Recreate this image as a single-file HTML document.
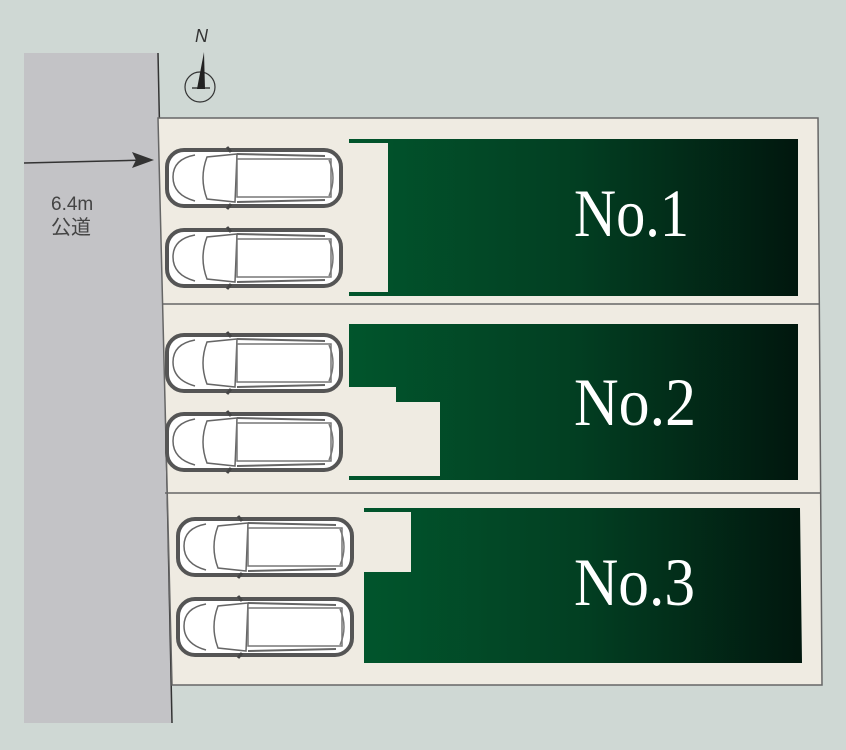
<!DOCTYPE html>
<html><head><meta charset="utf-8"><style>
html,body{margin:0;padding:0;background:#cfd8d4;}
svg{display:block}
</style></head><body>
<svg width="846" height="750" viewBox="0 0 846 750" xmlns="http://www.w3.org/2000/svg">
<defs>
<linearGradient id="g" x1="0" x2="1" y1="0" y2="0">
<stop offset="0" stop-color="#01552c"/><stop offset="0.5" stop-color="#023f22"/><stop offset="1" stop-color="#01170e"/>
</linearGradient>
<g id="car">
<rect x="2" y="3" width="174" height="56" rx="17" fill="#fff" stroke="#555" stroke-width="4"/>
<path d="M8 30 Q8 12 30 8 M8 30 Q8 48 30 54" fill="none" stroke="#666" stroke-width="1.5"/>
<path d="M42 10 Q34 31 42 52 L70 55 L72 7 Z" fill="#fff" stroke="#666" stroke-width="1.5"/>
<rect x="72" y="12" width="94" height="38" fill="#fff" stroke="#777" stroke-width="1.5"/>
<path d="M72 7 L160 9 M72 55 L160 53" stroke="#666" stroke-width="2"/>
<path d="M164 13 Q172 31 164 49" fill="none" stroke="#777" stroke-width="1.5"/>
<path d="M62 0 L66 5 M62 62 L66 57" stroke="#444" stroke-width="3"/>
</g>
</defs>
<rect width="846" height="750" fill="#cfd8d4"/>
<polygon points="24,53 158,53 172,723 24,723" fill="#c3c3c6"/>
<line x1="158" y1="53" x2="172" y2="723" stroke="#333" stroke-width="1.5"/>
<line x1="24" y1="163" x2="148" y2="160" stroke="#333" stroke-width="1.5"/>
<polygon points="154,160 132,152 136,160 132,168" fill="#333"/>
<text x="51" y="210" font-family="Liberation Sans, sans-serif" font-size="19" fill="#444">6.4m</text>
<text x="51" y="234" font-family="Liberation Sans, 'Noto Sans CJK JP', sans-serif" font-size="20" fill="#444">公道</text>
<circle cx="200" cy="87" r="15" fill="none" stroke="#333" stroke-width="1.2"/>
<polygon points="204,52 197,89 205,89" fill="#222"/>
<line x1="192" y1="88" x2="210" y2="88" stroke="#222" stroke-width="1.2"/>
<text x="195" y="42" font-family="Liberation Sans, sans-serif" font-size="18" font-style="italic" fill="#333">N</text>
<polygon points="158,118 818,118 822,685 172,685" fill="#efebe2" stroke="#666" stroke-width="1.5"/>
<line x1="162" y1="304" x2="819" y2="304" stroke="#666" stroke-width="1.5"/>
<line x1="165" y1="493" x2="820" y2="493" stroke="#666" stroke-width="1.5"/>
<polygon points="349,139 798,139 798,296 349,296 349,292 388,292 388,143 349,143" fill="url(#g)"/>
<polygon points="349,324 798,324 798,480 349,480 349,476 440,476 440,402 396,402 396,387 349,387" fill="url(#g)"/>
<polygon points="364,508 800,508 802,663 364,663 364,572 411,572 411,512 364,512" fill="url(#g)"/>
<g font-family="Liberation Serif, serif" font-size="68" fill="#fff">
<text x="574" y="236" textLength="115" lengthAdjust="spacingAndGlyphs">No.1</text>
<text x="574" y="425" textLength="122" lengthAdjust="spacingAndGlyphs">No.2</text>
<text x="574" y="605" textLength="121" lengthAdjust="spacingAndGlyphs">No.3</text>
</g>
<use href="#car" x="165" y="147"/>
<use href="#car" x="165" y="227"/>
<use href="#car" x="165" y="332"/>
<use href="#car" x="165" y="411"/>
<use href="#car" x="176" y="516"/>
<use href="#car" x="176" y="596"/>
</svg>
</body></html>
